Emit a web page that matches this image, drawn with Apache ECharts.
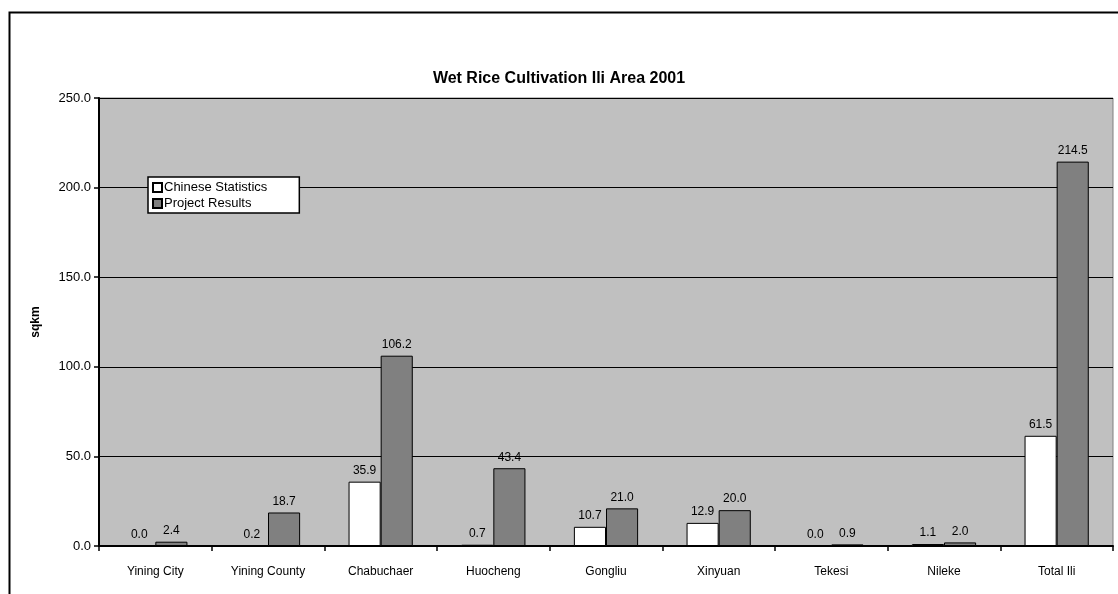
<!DOCTYPE html>
<html>
<head>
<meta charset="utf-8">
<script src="https://cdn.jsdelivr.net/npm/echarts@6/dist/echarts.min.js"></script>
<style>
html,body{margin:0;padding:0;background:#fff;}
#c{width:1118px;height:594px;}
</style>
</head>
<body>
<div id="c"></div>
<script>
const categories = ['Yining City','Yining County','Chabuchaer','Huocheng','Gongliu','Xinyuan','Tekesi','Nileke','Total Ili'];
const chineseStatistics = [0.0, 0.2, 35.9, 0.7, 10.7, 12.9, 0.0, 1.1, 61.5];
const projectResults = [2.4, 18.7, 106.2, 43.4, 21.0, 20.0, 0.9, 2.0, 214.5];
const seriesNames = ['Chinese Statistics','Project Results'];

const FONT = '"Liberation Sans", Arial, sans-serif';
const chart = echarts.init(document.getElementById('c'));
const labelOpt = {
  show: true, position: 'top', distance: 5,
  color: '#000', fontFamily: FONT, fontSize: 12,
  formatter: p => Number(p.value).toFixed(1)
};
chart.setOption({
  animation: false,
  backgroundColor: '#fff',
  title: {
    text: 'Wet Rice Cultivation Ili Area 2001',
    left: 'center', top: 66,
    textStyle: {fontFamily: FONT, fontSize: 16, fontWeight: 'bold', color: '#000'}
  },
  graphic: [{
    type: 'rect', left: 7, top: 10, z: 100, silent: true,
    shape: {width: 1130, height: 600},
    style: {fill: 'none', stroke: '#000', lineWidth: 2}
  }],
  legend: {
    orient: 'vertical', left: 148, top: 177,
    backgroundColor: '#fff', borderColor: '#000', borderWidth: 1.5,
    padding: [4, 32, 3, 4],
    itemWidth: 9, itemHeight: 9, itemGap: 3,
    icon: 'rect',
    textStyle: {fontFamily: FONT, fontSize: 13, color: '#000', padding: [0, 0, 0, -3]},
    data: seriesNames
  },
  grid: {
    left: 99, right: 5, top: 98, bottom: 48,
    show: true, backgroundColor: '#C0C0C0', borderColor: '#808080', borderWidth: 1
  },
  xAxis: {
    type: 'category', data: categories,
    axisLine: {lineStyle: {color: '#000', width: 2}},
    axisTick: {show: true, length: 5, lineStyle: {color: '#000', width: 1.5}},
    axisLabel: {color: '#000', fontFamily: FONT, fontSize: 12, margin: 20, interval: 0}
  },
  yAxis: {
    type: 'value', min: 0, max: 250, interval: 50,
    name: 'sqkm', nameLocation: 'middle', nameGap: 57, nameRotate: 90,
    nameTextStyle: {fontFamily: FONT, fontSize: 12, fontWeight: 'bold', color: '#000'},
    axisLine: {show: true, lineStyle: {color: '#000', width: 2}},
    axisTick: {show: true, length: 5, lineStyle: {color: '#000', width: 1.5}},
    axisLabel: {color: '#000', fontFamily: FONT, fontSize: 13, margin: 8, formatter: v => v.toFixed(1)},
    splitLine: {show: true, lineStyle: {color: '#000', width: 1}}
  },
  series: [{
    name: seriesNames[0], type: 'bar', data: chineseStatistics,
    barGap: '0%', barCategoryGap: '43%',
    itemStyle: {color: '#fff', borderColor: '#000', borderWidth: 1},
    label: labelOpt
  }, {
    name: seriesNames[1], type: 'bar', data: projectResults,
    barGap: '0%', barCategoryGap: '43%',
    itemStyle: {color: '#808080', borderColor: '#000', borderWidth: 1},
    label: labelOpt
  }]
});
</script>
</body>
</html>
